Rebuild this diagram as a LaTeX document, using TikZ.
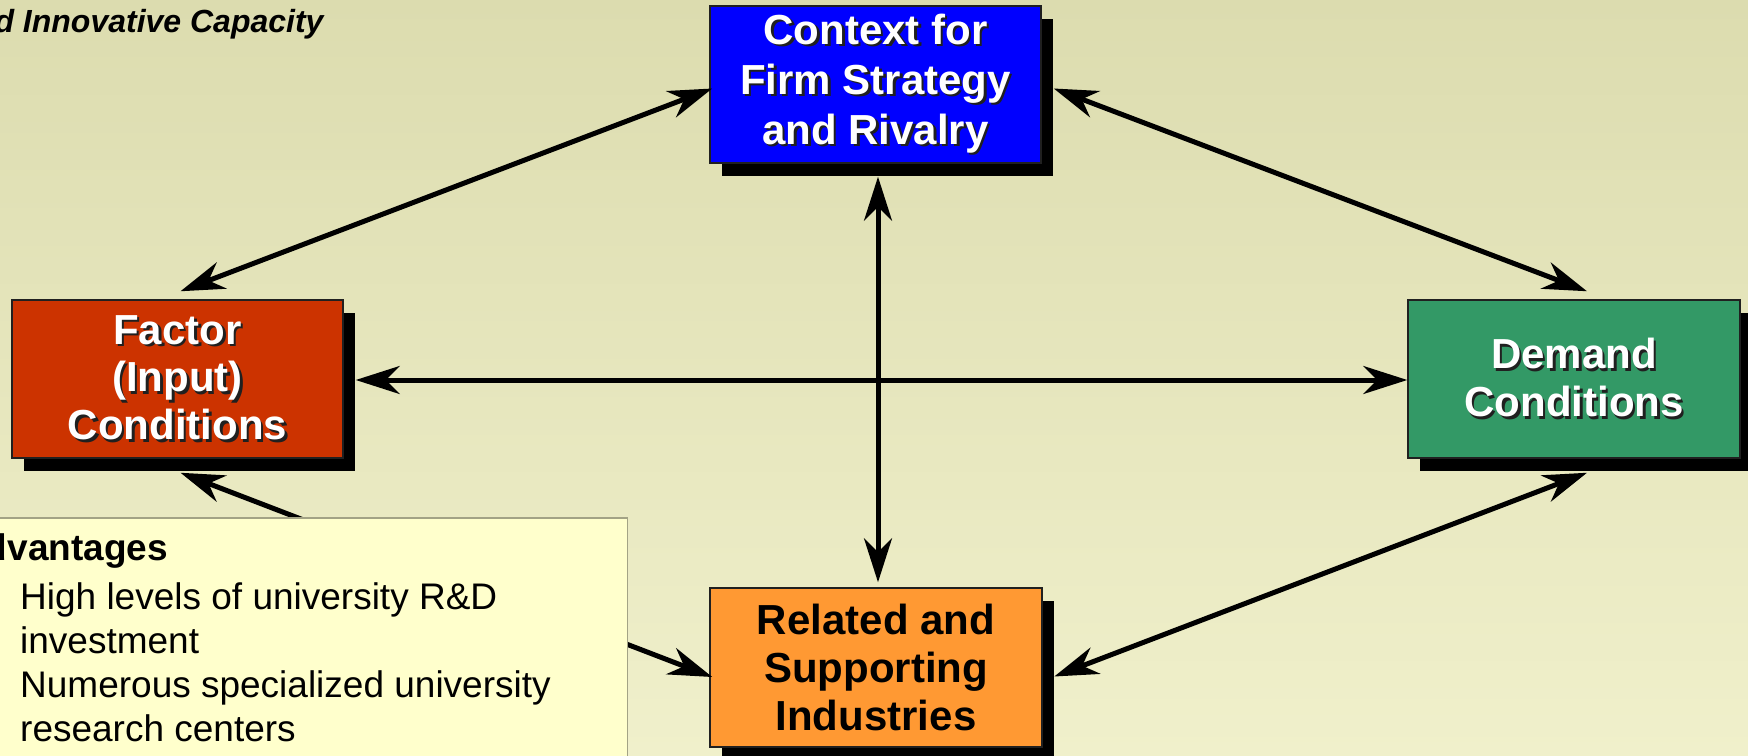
\documentclass[tikz,border=0pt]{standalone}
\usepackage{fontspec}
\setmainfont{Liberation Sans}
\usetikzlibrary{arrows.meta,shadows}

\definecolor{bgtop}{HTML}{DCDCAF}
\definecolor{bgbot}{HTML}{F0F0CB}
\definecolor{ctxblue}{HTML}{0000FF}
\definecolor{facred}{HTML}{CC3300}
\definecolor{demgreen}{HTML}{339966}
\definecolor{relorange}{HTML}{FF9933}
\definecolor{boxline}{HTML}{202020}
\definecolor{notefill}{HTML}{FFFFCC}
\definecolor{noteline}{HTML}{A3A385}
\definecolor{txtshadow}{HTML}{202020}

% white heading text with a small dark drop shadow
\newcommand\shadowed[1]{\rlap{\kern2.5pt\raisebox{-2.5pt}{\color{txtshadow}#1}}#1}

\begin{document}
\begin{tikzpicture}[x=1pt,y=-1pt,
  box/.style={draw=boxline, line width=1.5pt, inner sep=0pt, align=center,
    minimum width=331pt, minimum height=157pt,
    font=\fontsize{42}{48}\selectfont\bfseries,
    drop shadow={shadow xshift=12pt, shadow yshift=-13pt, fill=black, opacity=1}},
  conn/.style={line width=5pt,
    {Stealth[length=44pt,width=28pt,inset=14pt]}-{Stealth[length=44pt,width=28pt,inset=14pt]}},
  notetext/.style={anchor=base west, inner sep=0pt, font=\fontsize{37}{44}\selectfont}]

\useasboundingbox (0,0) rectangle (1748,755);
\clip (0,0) rectangle (1748,755);

% background
\shade[top color=bgtop, bottom color=bgbot] (0,0) rectangle (1748,755);

% the four determinants
\node[box, fill=ctxblue, text=white, font=\fontsize{42}{50}\selectfont\bfseries] (ctx) at (875.5,84.5)
  {\shadowed{Context for}\\\shadowed{Firm Strategy}\\\shadowed{and Rivalry}};
\node[box, fill=facred, text=white, minimum height=158pt] (fac) at (177.5,379)
  {\shadowed{Factor}\\\shadowed{(Input)}\\\shadowed{Conditions}};
\node[box, fill=demgreen, text=white, minimum width=332pt, minimum height=158pt] (dem) at (1574,379)
  {\shadowed{Demand}\\\shadowed{Conditions}};
\node[box, fill=relorange, text=black, minimum width=332pt, minimum height=159pt] (rel) at (876,667.5)
  {Related and\\Supporting\\Industries};

% arrow end points next to the boxes and their shadows
\coordinate (ctxW) at ([shift={(3,4)}]ctx.west);
\coordinate (ctxE) at ([shift={(12,4)}]ctx.east);
\coordinate (ctxS) at ([shift={(2.5,13)}]ctx.south);
\coordinate (facN) at ([shift={(3,-8)}]fac.north);
\coordinate (facS) at ([shift={(3,14)}]fac.south);
\coordinate (facE) at ([shift={(12,1)}]fac.east);
\coordinate (demN) at ([shift={(13,-8)}]dem.north);
\coordinate (demS) at ([shift={(13,14)}]dem.south);
\coordinate (demW) at ([shift={(0,1)}]dem.west);
\coordinate (relN) at ([shift={(2,-5)}]rel.north);
\coordinate (relW) at ([shift={(3,9.5)}]rel.west);
\coordinate (relE) at ([shift={(11.5,9)}]rel.east);

% two-way links of the diamond
\draw[conn] (facN) -- (ctxW);
\draw[conn] (ctxE) -- (demN);
\draw[conn] (facE) -- (demW);
\draw[conn] (ctxS) -- (relN);
\draw[conn] (demS) -- (relE);
\draw[conn] (facS) -- (relW);

% note panel
\node[draw=noteline, line width=1.5pt, fill=notefill, inner sep=0pt,
  minimum width=660pt, minimum height=260pt, anchor=north east] (note) at (628,517) {};
\node[notetext, font=\fontsize{37}{44}\selectfont\bfseries] (advhead) at (-42,560) {Advantages};
\node[notetext] (adv1) at (20,609) {High levels of university R\&D};
\node[notetext] (adv1b) at (20,653) {investment};
\node[notetext] (adv2) at (20,697) {Numerous specialized university};
\node[notetext] (adv2b) at (20,741) {research centers};

% heading line
\node[anchor=base west, inner sep=0pt, font=\fontsize{32}{37}\selectfont\bfseries\itshape] (head) at (-43,32)
  {and Innovative Capacity};

\end{tikzpicture}
\end{document}
